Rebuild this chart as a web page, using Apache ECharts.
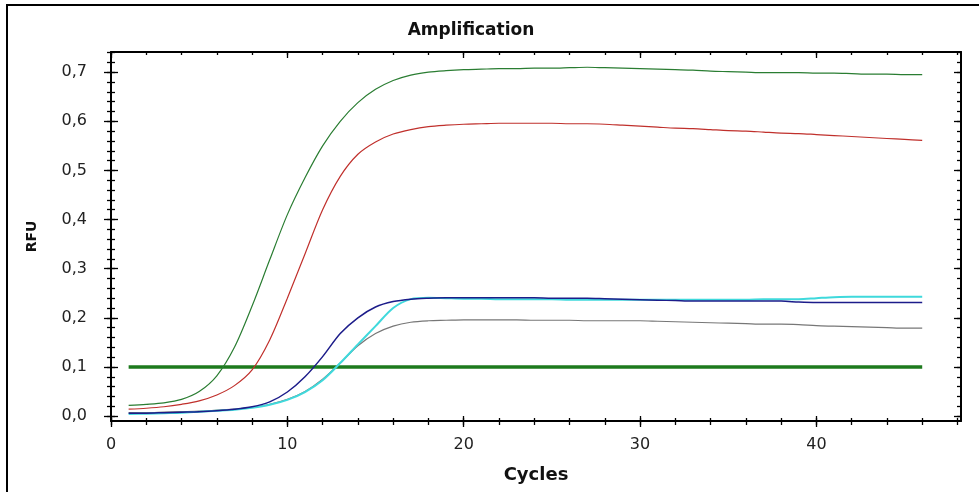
<!DOCTYPE html>
<html>
<head>
	<meta charset="utf-8">
	<title>Amplification</title>
	<script src="https://cdn.jsdelivr.net/npm/echarts@6/dist/echarts.min.js"></script>
	<style>
		html, body { margin: 0; padding: 0; background: #fff; }
	</style>
</head>
<body>
	<div id="main" style="width: 979px; height: 492px;"></div>
	<script type="text/javascript">
		// cycle numbers
		var cycles = [1, 2, 3, 4, 5, 6, 7, 8, 9, 10, 11, 12, 13, 14, 15, 16, 17, 18, 19, 20, 21, 22, 23,
			24, 25, 26, 27, 28, 29, 30, 31, 32, 33, 34, 35, 36, 37, 38, 39, 40, 41, 42, 43, 44, 45, 46];
		// RFU values per curve
		var greenRfu = [0.022, 0.024, 0.027, 0.034, 0.050, 0.082, 0.140, 0.224, 0.318, 0.410, 0.485, 0.550,
			0.600, 0.638, 0.665, 0.683, 0.694, 0.700, 0.703, 0.705, 0.706, 0.707, 0.707, 0.708, 0.708,
			0.709, 0.710, 0.709, 0.708, 0.707, 0.706, 0.705, 0.704, 0.702, 0.701, 0.700, 0.699, 0.699,
			0.699, 0.698, 0.698, 0.697, 0.696, 0.696, 0.695, 0.695];
		var redRfu = [0.014, 0.016, 0.019, 0.024, 0.031, 0.043, 0.062, 0.094, 0.155, 0.240, 0.330, 0.420,
			0.488, 0.533, 0.558, 0.574, 0.583, 0.589, 0.592, 0.594, 0.595, 0.596, 0.596, 0.596, 0.596,
			0.595, 0.595, 0.594, 0.592, 0.590, 0.588, 0.586, 0.585, 0.583, 0.581, 0.580, 0.578, 0.576,
			0.575, 0.573, 0.571, 0.569, 0.567, 0.565, 0.563, 0.561];
		var blueRfu = [0.006, 0.006, 0.007, 0.008, 0.009, 0.011, 0.014, 0.019, 0.029, 0.049, 0.080, 0.121,
			0.168, 0.200, 0.222, 0.233, 0.238, 0.240, 0.241, 0.241, 0.241, 0.241, 0.241, 0.241, 0.240,
			0.240, 0.240, 0.239, 0.238, 0.237, 0.236, 0.235, 0.234, 0.234, 0.234, 0.234, 0.234, 0.234,
			0.232, 0.231, 0.231, 0.231, 0.231, 0.231, 0.231, 0.231];
		var cyanRfu = [0.004, 0.005, 0.006, 0.007, 0.009, 0.011, 0.013, 0.017, 0.023, 0.033, 0.049, 0.073,
			0.108, 0.146, 0.183, 0.220, 0.238, 0.241, 0.240, 0.239, 0.239, 0.238, 0.238, 0.238, 0.238,
			0.237, 0.237, 0.237, 0.237, 0.237, 0.237, 0.237, 0.237, 0.237, 0.237, 0.237, 0.238, 0.238,
			0.238, 0.240, 0.242, 0.243, 0.243, 0.243, 0.243, 0.243];
		var grayRfu = [0.007, 0.007, 0.008, 0.009, 0.010, 0.012, 0.014, 0.018, 0.024, 0.034, 0.050, 0.075,
			0.108, 0.143, 0.168, 0.183, 0.191, 0.194, 0.195, 0.196, 0.196, 0.196, 0.196, 0.195, 0.195,
			0.195, 0.194, 0.194, 0.194, 0.194, 0.193, 0.192, 0.191, 0.190, 0.189, 0.188, 0.187, 0.187,
			0.186, 0.184, 0.183, 0.182, 0.181, 0.180, 0.179, 0.179];
		// threshold line
		var thresholdCycles = [1, 46];
		var thresholdRfu = 0.1;
		// tick labels
		var xTickLabels = [0, 10, 20, 30, 40];
		var yTickLabels = [0, 0.1, 0.2, 0.3, 0.4, 0.5, 0.6, 0.7];

		var xMin = 0, xMax = 48.2, yMin = -0.01, yMax = 0.741;

		// minor tick positions
		var xMinor = [];
		for (var i = 0; i <= 48; i += 2) xMinor.push(i);
		var yMinor = [];
		for (var j = 0; j <= 37; j++) yMinor.push(Math.round(j * 2) / 100);

		var pairs = function (ys) {
			return cycles.map(function (c, k) { return [c, ys[k]]; });
		};

		var chart = echarts.init(document.getElementById('main'));

		var xBase = { type: 'value', min: xMin, max: xMax };
		var yBase = { type: 'value', min: yMin, max: yMax };

		//extra axes that only draw ticks (used to get ticks crossing the axis line)
		function tickAxis(base, pos, ticks, len, inside) {
			return Object.assign({}, base, {
				position: pos,
				axisLine: { show: false, onZero: false },
				axisTick: {
					show: true, inside: inside, length: len, customValues: ticks,
					lineStyle: { color: '#000', width: 1.3 }
				},
				axisLabel: { show: false },
				splitLine: { show: false }
			});
		}

		function curve(name, ys, color, width) {
			return {
				name: name, type: 'line', symbol: 'none', smooth: 0.3,
				data: pairs(ys),
				lineStyle: { color: color, width: width }
			};
		}

		var labelFont = { color: '#222', fontSize: 16, fontFamily: 'DejaVu Sans' };

		var option = {
			backgroundColor: '#fff',
			animation: false,
			grid: { left: 111, right: 18, top: 52, bottom: 71, containLabel: false, outerBoundsMode: 'none' },
			graphic: [{
				type: 'rect',
				shape: { x: 7, y: 5, width: 1000, height: 600 },
				style: { fill: 'none', stroke: '#000', lineWidth: 2 }
			}, {
				type: 'text',
				x: 471, y: 31,
				style: {
					text: 'Amplification', textAlign: 'center', textVerticalAlign: 'middle',
					font: 'bold 17px "DejaVu Sans"', fill: '#111'
				}
			}],
			xAxis: [
				Object.assign({}, xBase, {
					position: 'bottom',
					name: 'Cycles',
					nameLocation: 'middle',
					nameGap: 45,
					nameTextStyle: { color: '#111', fontSize: 18, fontWeight: 'bold', fontFamily: 'DejaVu Sans' },
					axisLine: { show: true, onZero: false, lineStyle: { color: '#000', width: 2 } },
					axisTick: { show: true, inside: false, length: 4, customValues: xMinor, lineStyle: { color: '#000', width: 1.3 } },
					axisLabel: Object.assign({ customValues: xTickLabels, margin: 16 }, labelFont),
					splitLine: { show: false }
				}),
				tickAxis(xBase, 'bottom', xMinor, 3, true),
				tickAxis(xBase, 'bottom', xTickLabels, 6, false),
				tickAxis(xBase, 'bottom', xTickLabels, 5, true),
				Object.assign({}, xBase, {
					position: 'top',
					axisLine: { show: true, onZero: false, lineStyle: { color: '#000', width: 2 } },
					axisTick: { show: true, inside: true, length: 3, customValues: xMinor, lineStyle: { color: '#000', width: 1.3 } },
					axisLabel: { show: false },
					splitLine: { show: false }
				}),
				tickAxis(xBase, 'top', xTickLabels, 6, true)
			],
			yAxis: [
				Object.assign({}, yBase, {
					position: 'left',
					name: 'RFU',
					nameLocation: 'middle',
					nameGap: 72,
					nameTextStyle: { color: '#111', fontSize: 14, fontWeight: 'bold', fontFamily: 'DejaVu Sans' },
					axisLine: { show: true, onZero: false, lineStyle: { color: '#000', width: 2 } },
					axisTick: { show: true, inside: false, length: 4, customValues: yMinor, lineStyle: { color: '#000', width: 1.3 } },
					axisLabel: Object.assign({
						customValues: yTickLabels, margin: 24,
						formatter: function (v) { return v.toFixed(1).replace('.', ','); }
					}, labelFont),
					splitLine: { show: false }
				}),
				tickAxis(yBase, 'left', yMinor, 4, true),
				tickAxis(yBase, 'left', yTickLabels, 7, false),
				tickAxis(yBase, 'left', yTickLabels, 7, true),
				Object.assign({}, yBase, {
					position: 'right',
					axisLine: { show: true, onZero: false, lineStyle: { color: '#000', width: 2 } },
					axisTick: { show: true, inside: true, length: 4, customValues: yMinor, lineStyle: { color: '#000', width: 1.3 } },
					axisLabel: { show: false },
					splitLine: { show: false }
				}),
				tickAxis(yBase, 'right', yTickLabels, 7, true)
			],
			series: [
				{
					name: 'threshold', type: 'line', symbol: 'none',
					data: thresholdCycles.map(function (c) { return [c, thresholdRfu]; }),
					lineStyle: { color: '#1d7a1d', width: 3.5 }
				},
				curve('gray', grayRfu, '#777', 1.2),
				curve('cyan', cyanRfu, '#3fd9dc', 2),
				curve('blue', blueRfu, '#1c1c8a', 1.5),
				curve('red', redRfu, '#c0302c', 1.2),
				curve('green', greenRfu, '#2a7d32', 1.2)
			]
		};
		chart.setOption(option);
	</script>
</body>
</html>
